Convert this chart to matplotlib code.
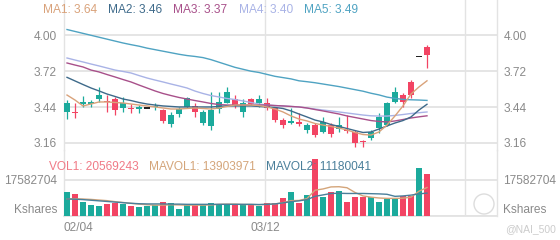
import matplotlib
matplotlib.use("Agg")
import matplotlib.pyplot as plt
from matplotlib.patches import Ellipse

plt.rcParams['font.family'] = ['Liberation Sans', 'DejaVu Sans']

# ---------------- data ----------------
opens  = [3.402, 3.402, 3.468, 3.468, 3.503, 3.487, 3.503, 3.433, 3.433, 3.429,
          3.433, 3.437, 3.417, 3.308, 3.386, 3.441, 3.448, 3.316, 3.292, 3.425,
          3.472, 3.503, 3.402, 3.503, 3.472, 3.472, 3.433, 3.339, 3.316, 3.316,
          3.261, 3.300, 3.246, 3.300, 3.269, 3.261, 3.246, 3.168, 3.199, 3.277,
          3.300, 3.480, 3.534, 3.636, 3.831, 3.909]
closes = [3.472, 3.394, 3.472, 3.472, 3.534, 3.480, 3.417, 3.472, 3.425, 3.433,
          3.433, 3.441, 3.331, 3.378, 3.425, 3.511, 3.402, 3.402, 3.417, 3.480,
          3.558, 3.448, 3.472, 3.464, 3.503, 3.433, 3.339, 3.300, 3.331, 3.312,
          3.300, 3.222, 3.324, 3.230, 3.300, 3.257, 3.160, 3.164, 3.246, 3.363,
          3.472, 3.558, 3.480, 3.534, 3.831, 3.846]
highs  = [3.495, 3.472, 3.526, 3.495, 3.597, 3.534, 3.519, 3.519, 3.464, 3.456,
          3.433, 3.472, 3.425, 3.402, 3.441, 3.519, 3.472, 3.417, 3.558, 3.558,
          3.597, 3.534, 3.503, 3.511, 3.534, 3.511, 3.441, 3.355, 3.433, 3.394,
          3.316, 3.316, 3.363, 3.316, 3.363, 3.378, 3.261, 3.183, 3.261, 3.394,
          3.480, 3.597, 3.550, 3.651, 3.831, 3.924]
lows   = [3.347, 3.355, 3.441, 3.441, 3.480, 3.402, 3.378, 3.402, 3.394, 3.394,
          3.433, 3.417, 3.316, 3.285, 3.363, 3.433, 3.363, 3.300, 3.261, 3.394,
          3.472, 3.433, 3.363, 3.456, 3.441, 3.417, 3.324, 3.277, 3.308, 3.292,
          3.238, 3.207, 3.238, 3.207, 3.246, 3.238, 3.129, 3.129, 3.183, 3.238,
          3.292, 3.472, 3.441, 3.511, 3.831, 3.745]
volumes = [11.9, 10.6, 6.7, 5.4, 4.7, 6.0, 6.35, 6.0, 4.7, 4.2,
           4.7, 5.2, 6.7, 6.35, 3.4, 5.4, 5.4, 5.4, 6.35, 6.0,
           5.4, 6.0, 5.4, 6.0, 5.0, 6.2, 6.2, 8.6, 11.9, 6.2,
           10.25, 27.8, 9.4, 11.6, 12.2, 7.0, 9.4, 9.4, 9.1, 7.0,
           8.1, 8.1, 9.8, 9.8, 23.6, 20.569243]

ma1 = [3.534, 3.495, 3.449, 3.464, 3.480, 3.480, 3.476, 3.472, 3.464, 3.456,
       3.449, 3.441, 3.433, 3.425, 3.425, 3.429, 3.433, 3.429, 3.425, 3.433,
       3.445, 3.456, 3.456, 3.456, 3.452, 3.441, 3.425, 3.402, 3.371, 3.347,
       3.332, 3.312, 3.300, 3.289, 3.277, 3.261, 3.242, 3.226, 3.222, 3.246,
       3.300, 3.371, 3.449, 3.542, 3.597, 3.645]
ma2 = [3.672, 3.644, 3.616, 3.589, 3.566, 3.542, 3.523, 3.503, 3.491, 3.476,
       3.464, 3.456, 3.449, 3.445, 3.441, 3.441, 3.441, 3.441, 3.441, 3.445,
       3.449, 3.449, 3.449, 3.449, 3.445, 3.441, 3.437, 3.429, 3.410, 3.386,
       3.363, 3.339, 3.324, 3.304, 3.289, 3.273, 3.257, 3.242, 3.246, 3.269,
       3.293, 3.316, 3.335, 3.363, 3.417, 3.462]
ma3 = [3.784, 3.768, 3.753, 3.729, 3.714, 3.694, 3.675, 3.655, 3.636, 3.612,
       3.589, 3.566, 3.546, 3.530, 3.515, 3.503, 3.491, 3.480, 3.468, 3.460,
       3.456, 3.456, 3.456, 3.456, 3.456, 3.456, 3.452, 3.449, 3.445, 3.441,
       3.433, 3.421, 3.410, 3.398, 3.386, 3.371, 3.359, 3.347, 3.335, 3.328,
       3.324, 3.332, 3.343, 3.355, 3.364, 3.372]
ma4 = [3.823, 3.807, 3.792, 3.776, 3.761, 3.745, 3.729, 3.718, 3.706, 3.686,
       3.667, 3.651, 3.636, 3.620, 3.605, 3.589, 3.565, 3.546, 3.530, 3.519,
       3.507, 3.499, 3.488, 3.476, 3.464, 3.456, 3.452, 3.449, 3.445, 3.441,
       3.433, 3.425, 3.417, 3.410, 3.402, 3.394, 3.386, 3.378, 3.372, 3.370,
       3.370, 3.375, 3.382, 3.390, 3.396, 3.402]
ma5 = [4.045, 4.030, 4.015, 4.000, 3.985, 3.970, 3.955, 3.940, 3.927, 3.915,
       3.900, 3.888, 3.876, 3.864, 3.852, 3.842, 3.835, 3.826, 3.810, 3.790,
       3.770, 3.750, 3.735, 3.720, 3.710, 3.695, 3.680, 3.670, 3.660, 3.645,
       3.638, 3.630, 3.620, 3.610, 3.600, 3.588, 3.576, 3.564, 3.548, 3.535,
       3.518, 3.508, 3.500, 3.497, 3.495, 3.492]

mavol1 = [8.3, 8.4, 8.3, 8.1, 7.8, 7.5, 7.0, 6.6, 6.2, 5.8,
          5.5, 5.3, 5.3, 5.5, 5.4, 5.3, 5.3, 5.3, 5.4, 5.7,
          5.8, 5.8, 5.6, 5.6, 5.5, 5.7, 5.9, 6.5, 7.5, 7.6,
          8.5, 12.6, 13.2, 14.2, 14.3, 13.8, 11.5, 9.8, 9.2, 8.8,
          8.6, 8.6, 8.7, 9.2, 12.1, 13.903971]
mavol2 = [8.3, 8.2, 8.0, 7.7, 7.4, 7.1, 6.8, 6.5, 6.2, 6.0,
          5.9, 5.9, 5.9, 5.8, 5.8, 5.7, 5.7, 5.7, 5.7, 5.7,
          5.7, 5.7, 5.7, 5.7, 5.6, 5.7, 5.9, 6.4, 7.0, 7.4,
          8.0, 9.6, 10.3, 11.0, 11.1, 11.0, 11.0, 11.0, 10.9, 10.8,
          10.6, 9.6, 9.8, 10.2, 10.8, 11.180041]

price_ticks = [3.16, 3.44, 3.72, 4.00]
vol_tick = 17582704
date_labels = ['02/04', '03/12']
date_pos = [-0.375, 24.75]
extra_vgrid = [24.75, 49.75]

ma_names = ['MA1: 3.64', 'MA2: 3.46', 'MA3: 3.37', 'MA4: 3.40', 'MA5: 3.49']
vol_names = ['VOL1: 20569243', 'MAVOL1: 13903971', 'MAVOL2: 11180041']

# ---------------- style ----------------
W, H = 560, 240
GREEN = '#1BAA9C'
RED = '#F24463'
GRID = '#E3E3E3'
LBL = '#8A8A8A'
ma_colors = ['#D9A27A', '#3E6A8A', '#A8508A', '#A9B3E6', '#4FA3C2']
vol_colors = ['#F07A86', '#D4A57A', '#4A7F9A']
FS = 8.6

fig = plt.figure(figsize=(W / 100, H / 100), dpi=100)
x0, x1 = 64, 496.5

def fx(px):
    return px / W

def fy(py):
    return 1 - py / H

axp = fig.add_axes([fx(x0), fy(150), fx(x1 - x0), 150 / H])
axv = fig.add_axes([fx(x0), fy(216), fx(x1 - x0), 66 / H])

xs = list(range(len(opens)))
xlim = (-0.375, 53.69)

# candles
for i in xs:
    o, c, h, l = opens[i], closes[i], highs[i], lows[i]
    if c > o:
        col = GREEN
    elif c < o:
        col = RED
    else:
        col = '#222222'
    axp.vlines(i, l, h, color=col, lw=0.9, zorder=3)
    bh = max(abs(c - o), 0.008)
    axp.bar(i, bh, bottom=min(o, c) - (0.004 if c == o else 0), width=0.72,
            color=col, zorder=4, linewidth=0)

for vals, col in zip([ma5, ma4, ma3, ma2, ma1], ma_colors[::-1]):
    axp.plot(xs, vals, color=col, lw=1.0, zorder=5)

axp.set_xlim(*xlim)
axp.set_ylim(3.1053, 4.2753)
axp.set_yticks(price_ticks)
axp.set_yticklabels([f'{t:.2f}' for t in price_ticks])
axp.tick_params(axis='y', length=0, pad=5, labelsize=FS, labelcolor=LBL,
                labelleft=True, labelright=True)
axp.set_xticks([])
axp.grid(axis='y', color=GRID, lw=1.3)
for v in extra_vgrid:
    axp.axvline(v, color=GRID, lw=1.0, zorder=0)

# volume
vcols = [RED if closes[i] < opens[i] else GREEN for i in xs]
axv.bar(xs, [v * 1e6 for v in volumes], width=0.72, color=vcols, zorder=3, linewidth=0)
axv.plot(xs, [v * 1e6 for v in mavol1], color=vol_colors[1], lw=1.0, zorder=4)
axv.plot(xs, [v * 1e6 for v in mavol2], color=vol_colors[2], lw=1.0, zorder=4)
axv.set_xlim(*xlim)
axv.set_ylim(0, 66 / 2.048 * 1e6)
axv.set_yticks([0, vol_tick])
axv.set_yticklabels(['Kshares', str(vol_tick)])
axv.tick_params(axis='y', length=0, pad=5, labelsize=FS, labelcolor=LBL,
                labelleft=True, labelright=True)
for lab in axv.get_yticklabels() + axv.yaxis.get_ticklabels(which='major'):
    if lab.get_text() == 'Kshares':
        lab.set_va('bottom')
for t in axv.yaxis.get_major_ticks():
    if t.label2.get_text() == 'Kshares':
        t.label2.set_va('bottom')
axv.grid(axis='y', color=GRID, lw=1.3)
for v in extra_vgrid:
    axv.axvline(v, color=GRID, lw=1.0, zorder=0)
axv.set_xticks(date_pos)
axv.set_xticklabels(date_labels)
axv.tick_params(axis='x', length=0, pad=4, labelsize=FS, labelcolor=LBL)
axv.get_xticklabels()[0].set_ha('left')

for ax in (axp, axv):
    ax.set_facecolor('none')
    ax.spines['top'].set_visible(False)
    for s in ('left', 'right'):
        ax.spines[s].set_color(GRID)
        ax.spines[s].set_linewidth(1.0)
axp.spines['bottom'].set_visible(False)
axv.spines['bottom'].set_color(GRID)
axv.spines['bottom'].set_linewidth(1.3)

# legends
for name, col, px in zip(ma_names, ma_colors, [43, 108, 173, 239, 304]):
    fig.text(fx(px), fy(10), name, color=col, fontsize=FS, va='center', ha='left')
for name, col, px in zip(vol_names, vol_colors, [49, 149, 266]):
    fig.text(fx(px), fy(167), name, color=col, fontsize=FS, va='center', ha='left')

# watermark
r = 10
fig.patches.append(Ellipse((fx(484), fy(204)), 2 * r / W, 2 * r / H,
                           transform=fig.transFigure, fill=False,
                           ec='#DDDDDD', lw=1.0))
fig.text(fx(505), fy(229), '@NAI_500', color='#CCCCCC', fontsize=7.5, va='center')

fig.savefig('out.png', dpi=100)
